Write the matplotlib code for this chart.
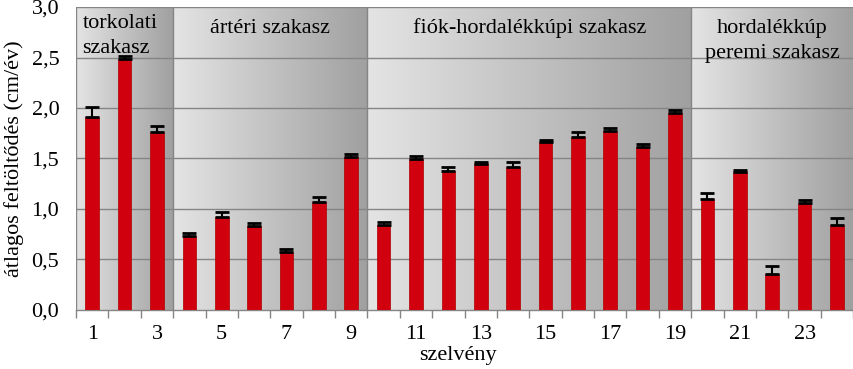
import numpy as np
import matplotlib
matplotlib.use("Agg")
import matplotlib.pyplot as plt
from matplotlib.colors import LinearSegmentedColormap

# ---- data ----
szelveny = list(range(1, 25))
atlag = [1.91, 2.49, 1.76, 0.73, 0.92, 0.83, 0.57, 1.07, 1.51,
         0.84, 1.49, 1.38, 1.45, 1.42, 1.66, 1.71, 1.77, 1.61, 1.95,
         1.10, 1.37, 0.36, 1.06, 0.84]
hiba = [0.10, 0.02, 0.06, 0.035, 0.05, 0.035, 0.035, 0.05, 0.035,
        0.035, 0.035, 0.035, 0.015, 0.05, 0.02, 0.05, 0.035, 0.035, 0.035,
        0.055, 0.015, 0.08, 0.03, 0.07]
section_names = ["torkolati\nszakasz", "ártéri szakasz",
                 "fiók-hordalékkúpi szakasz", "hordalékkúp\nperemi szakasz"]
section_first = [1, 4, 10, 20]
section_last = [3, 9, 19, 24]
ytick_vals = [0.0, 0.5, 1.0, 1.5, 2.0, 2.5, 3.0]
ytick_labels = ["0,0", "0,5", "1,0", "1,5", "2,0", "2,5", "3,0"]
xtick_vals = list(range(1, 25, 2))
ylabel = "átlagos feltöltődés (cm/év)"
xlabel = "szelvény"

FONT = "Liberation Serif"
FS = 16

fig = plt.figure(figsize=(8.54, 3.69), dpi=100)
ax = fig.add_axes([0.089, 0.16, 0.910, 0.821])

xmin, xmax = 0.5, 24.5
ymin, ymax = 0.0, 3.0

# gradient backgrounds
cmap = LinearSegmentedColormap.from_list("g", ["#e4e4e4", "#a0a0a0"])
grad = np.linspace(0, 1, 256).reshape(1, -1)
for a, b in zip(section_first, section_last):
    ax.imshow(grad, cmap=cmap, aspect="auto", extent=[a - 0.5, b + 0.5, ymin, ymax],
              zorder=0, interpolation="bilinear")
ax.set_xlim(xmin, xmax)
ax.set_ylim(ymin, ymax)

# grid
for v in ytick_vals[1:]:
    ax.axhline(v, color="#858585", lw=1.0, zorder=1)
# section dividers
for a in section_first:
    ax.axvline(a - 0.5, color="#858585", lw=1.0, zorder=1)

# bars
ax.bar(szelveny, atlag, width=0.42, color="#d0000f", edgecolor="#b00000",
       linewidth=0.5, zorder=3)
ax.errorbar(szelveny, atlag, yerr=[np.zeros(len(hiba)), hiba], fmt="none",
            ecolor="black", elinewidth=1.5, capsize=5, capthick=2.0, zorder=4)

# section labels
for i, (name, a, b) in enumerate(zip(section_names, section_first, section_last)):
    lines = name.split("\n")
    if i == 0:
        cx, ha = a - 0.5 + 0.2, "left"
        top_px = 28
    else:
        cx, ha = (a + b) / 2, "center"
        top_px = 33
    for k, line in enumerate(lines):
        ypx = top_px + 25 * k
        yv = ymax - (ypx - 7) / 101.0
        ax.text(cx, yv, line, ha=ha, va="baseline", fontsize=FS,
                family=FONT, color="black", zorder=5)

# axes styling
for s in ["top", "right", "left"]:
    ax.spines[s].set_visible(False)
ax.spines["bottom"].set_color("#858585")
ax.spines["bottom"].set_linewidth(1.0)
ax.spines["bottom"].set_zorder(2)

ax.set_yticks(ytick_vals)
ax.set_yticklabels(ytick_labels, family=FONT, fontsize=FS)
ax.tick_params(axis="y", length=0, pad=12)

ax.set_xticks(xtick_vals)
ax.set_xticklabels([str(v) for v in xtick_vals], family=FONT, fontsize=FS)
ax.set_xticks(np.arange(0.5, 25, 1.0), minor=True)
ax.tick_params(axis="x", which="major", length=0, pad=11)
ax.tick_params(axis="x", which="minor", length=6, color="#858585", width=1.0)

ax.set_ylabel(ylabel, family=FONT, fontsize=FS)
ax.yaxis.set_label_coords(-0.067, 0.5)
ax.set_xlabel(xlabel, family=FONT, fontsize=FS)
ax.xaxis.set_label_coords(0.4916, -0.12)

fig.savefig("out.png", dpi=100)
